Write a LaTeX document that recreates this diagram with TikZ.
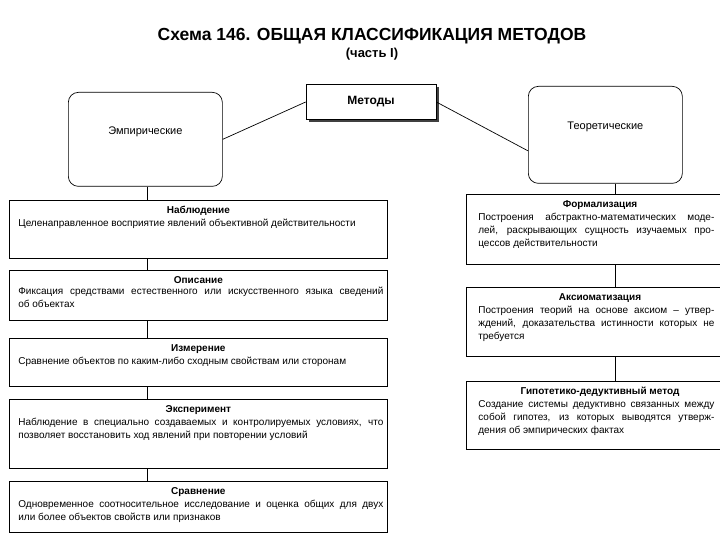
\documentclass[tikz,border=0pt]{standalone}
\usepackage{fontspec}
\setmainfont{Liberation Sans}
\usetikzlibrary{positioning,shadows}

\begin{document}
\begin{tikzpicture}[x=1pt,y=-1pt,line width=0.7pt,
  every node/.style={font=\fontsize{10}{13}\selectfont},
  headbox/.style={draw,fill=white,minimum width=130,minimum height=35,
    font=\fontsize{12}{14}\selectfont\bfseries,
    drop shadow={shadow xshift=2.5pt,shadow yshift=-2.5pt,fill=black!75,opacity=1}},
  groupbox/.style={draw,rounded corners=10,anchor=north west,minimum width=154,inner sep=0},
  lbox/.style={draw,anchor=north west,minimum width=378,inner sep=0},
  rbox/.style={draw,anchor=north west,minimum width=320,inner sep=0},
  boxhead/.style={anchor=north,inner sep=0,font=\fontsize{10}{13}\selectfont\bfseries},
  ltext/.style={anchor=north west,text width=365,align=justify,inner sep=0},
  rtext/.style={anchor=north west,text width=236,align=justify,inner sep=0}]
  \useasboundingbox (0,0) rectangle (720,540);
  \clip (0,0) rectangle (720,540);
  % heading
  \node[font=\fontsize{17.5}{20}\selectfont\bfseries] (title) at (372,36) {Схема 146. ОБЩАЯ КЛАССИФИКАЦИЯ МЕТОДОВ};
  \node[font=\fontsize{13}{16}\selectfont\bfseries,below=3 of title] (part) {(часть I)};
  % top level
  \node[headbox] (metody) at (371,102) {Методы};
  \node[groupbox,minimum height=94] (emp) at (68,92) {};
  \node[font=\fontsize{11}{13}\selectfont] (empt) at ([yshift=8]emp.center) {Эмпирические};
  \node[groupbox,minimum height=97] (teor) at (528,86) {};
  \node[font=\fontsize{11}{13}\selectfont] (teort) at ([yshift=8]teor.center) {Теоретические};
  \draw (metody.west) -- (emp.east);
  \draw (metody.east) -- ([yshift=-16]teor.west);
  \coordinate (ltrunk) at (147,0);
  \coordinate (rtrunk) at (615,0);
  % empirical methods
  \node[lbox,minimum height=58] (nabl) at (9,200) {};
  \node[lbox,minimum height=50] (opis) at (9,270) {};
  \node[lbox,minimum height=48] (izm) at (9,338) {};
  \node[lbox,minimum height=69] (eksp) at (9,399) {};
  \node[lbox,minimum height=51] (srav) at (9,481) {};
  \foreach \b/\h in {nabl/Наблюдение,opis/Описание,izm/Измерение,eksp/Эксперимент,srav/Сравнение}
    \node[boxhead] (\b h) at ([yshift=-6]\b.north) {\h};
  \node[ltext] (nablt) at ([xshift=9,yshift=-3]nablh.south -| nabl.west)
    {Целенаправленное восприятие явлений объективной действительности};
  \node[ltext] (opist) at ([xshift=9,yshift=-3]opish.south -| opis.west)
    {Фиксация средствами естественного или искусственного языка сведений\linebreak об объектах};
  \node[ltext] (izmt) at ([xshift=9,yshift=-3]izmh.south -| izm.west)
    {Сравнение объектов по каким-либо сходным свойствам или сторонам};
  \node[ltext] (ekspt) at ([xshift=9,yshift=-3]eksph.south -| eksp.west)
    {Наблюдение в специально создаваемых и контролируемых условиях, что\linebreak позволяет восстановить ход явлений при повторении условий};
  \node[ltext] (sravt) at ([xshift=9,yshift=-3]sravh.south -| srav.west)
    {Одновременное соотносительное исследование и оценка общих для двух\linebreak или более объектов свойств или признаков};
  \draw (emp.south -| ltrunk) -- (nabl.north -| ltrunk);
  \foreach \a/\b in {nabl/opis,opis/izm,izm/eksp,eksp/srav}
    \draw (\a.south -| ltrunk) -- (\b.north -| ltrunk);
  % theoretical methods
  \node[rbox,minimum height=70] (form) at (466,194) {};
  \node[rbox,minimum height=69] (aks) at (466,287) {};
  \node[rbox,minimum height=68] (gip) at (466,381) {};
  \coordinate (rhead) at (600,0);
  \foreach \b/\h in {form/Формализация,aks/Аксиоматизация,gip/Гипотетико-дедуктивный метод}
    \node[boxhead] (\b h) at ([yshift=-6]\b.north -| rhead) {\h};
  \node[rtext] (formt) at ([xshift=12,yshift=-3]formh.south -| form.west)
    {Построения абстрактно-математических моде-\linebreak лей, раскрывающих сущность изучаемых про-\linebreak цессов действительности};
  \node[rtext] (akst) at ([xshift=12,yshift=-3]aksh.south -| aks.west)
    {Построения теорий на основе аксиом -- утвер-\linebreak ждений, доказательства истинности которых не\linebreak требуется};
  \node[rtext] (gipt) at ([xshift=12,yshift=-3]giph.south -| gip.west)
    {Создание системы дедуктивно связанных между\linebreak собой гипотез, из которых выводятся утверж-\linebreak дения об эмпирических фактах};
  \draw (teor.south -| rtrunk) -- (form.north -| rtrunk);
  \foreach \a/\b in {form/aks,aks/gip}
    \draw (\a.south -| rtrunk) -- (\b.north -| rtrunk);
\end{tikzpicture}
\end{document}
